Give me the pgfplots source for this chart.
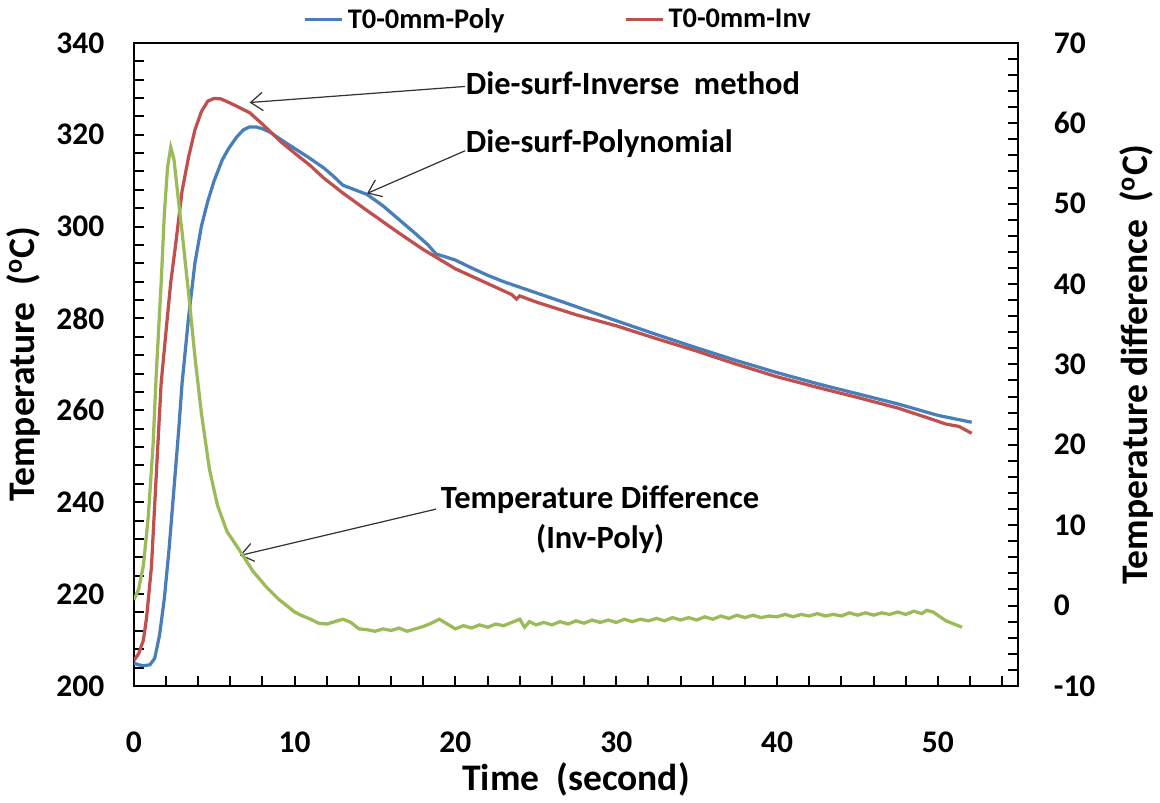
\documentclass[border=0pt]{standalone}
\usepackage{pgfplots}
\pgfplotsset{compat=1.18}
\usepackage{fontspec}
\setmainfont{Carlito}
\usetikzlibrary{arrows.meta}

\definecolor{polyblue}{RGB}{74,126,187}
\definecolor{invred}{RGB}{192,80,77}
\definecolor{diffgreen}{RGB}{155,187,89}

\pgfplotsset{
  every axis/.append style={
    scale only axis,
    width=436pt, height=317pt,
    xmin=0, xmax=55,
    axis line style={line width=1.1pt},
    major tick style={line width=1pt, black},
    minor tick style={line width=1pt, black},
    major tick length=5pt, minor tick length=5pt,
    tick label style={font=\bfseries\fontsize{15.5}{18}\selectfont},
    label style={font=\bfseries\fontsize{18.5}{21}\selectfont},
    /pgf/number format/assume math mode=true,
  }
}

\begin{document}
\begin{tikzpicture}[>={Straight Barb[length=6pt,width=9pt]}]
% left axis: the two surface temperatures
\begin{axis}[
    ymin=200, ymax=340,
    ytick={200,220,...,340},
    minor ytick={200,204,...,340},
    xtick={0,10,...,50},
    minor xtick={0,2,...,54},
    xtick pos=bottom, ytick pos=left,
    xlabel={Time\ \ (second)},
    ylabel={Temperature\ \ (\textsuperscript{o}C)},
    xticklabel style={yshift=-19pt},
    xlabel style={yshift=2pt},
    ylabel style={yshift=1pt},
    yticklabel style={xshift=-11pt},
    legend columns=2,
    legend style={draw=none, fill=none, at={(0.481,1.005)}, anchor=south,
      font=\bfseries\fontsize{14}{17}\selectfont,
      /tikz/every even column/.append style={column sep=57pt}},
    legend image code/.code={\draw[#1, line width=1.8pt] (0pt,0pt) -- (18pt,0pt);},
  ]
\addplot[polyblue, line width=1.6pt] coordinates {
(0,205.0) (0.3,204.6) (0.6,204.4) (1.0,204.6) (1.3,206) (1.6,211) (1.9,219)
(2.2,230) (2.5,243) (2.8,256) (3.0,265.8) (3.4,280) (3.8,292) (4.2,300)
(4.6,305.5) (5.0,310) (5.5,314.5) (5.9,317) (6.4,319.5) (6.8,321) (7.2,321.7)
(7.6,321.7) (8.0,321.3) (8.5,320.5) (9.2,318.8) (10,317) (10.8,315.2)
(11.8,312.8) (12.4,311) (13.0,309) (13.6,308.2) (14.5,307) (15.5,304.5)
(16.5,301.5) (17.5,298.5) (18.3,296) (18.8,294) (19.3,293.5) (20.0,292.7)
(21,291) (22,289.4) (23,288) (24,286.8) (25,285.6) (27,283.2) (30,279.5)
(32.5,276.5) (35,273.6) (37.5,270.8) (40,268.2) (42.5,265.8) (45,263.6)
(47.5,261.4) (50,258.9) (52.1,257.4)
};
\addlegendentry{T0-0mm-Poly}
\addplot[invred, line width=1.6pt] coordinates {
(0,205.5) (0.3,207) (0.6,210) (0.8,215) (1.1,226) (1.4,246) (1.7,265.8)
(2.0,277) (2.3,287.9) (2.6,296) (3.0,307.7) (3.4,315) (3.8,321) (4.2,325)
(4.6,327.3) (5.0,327.9) (5.4,327.8) (5.8,327.2) (6.4,326.2) (7.2,324.8)
(8.0,322.3) (8.5,320.6) (9.2,318.3) (10,316) (11,313.2) (11.8,310.6)
(13,307.3) (14.5,303.5) (16.4,298.8) (18,295) (20,290.8) (22,287.6)
(23.5,285.2) (23.8,284.2) (24,284.9) (25,283.6) (27.5,280.8) (30,278.4)
(32.5,275.6) (35,272.9) (37.5,270.0) (40,267.3) (42.5,265.0) (45,262.8)
(47.5,260.5) (49.5,258.2) (50.5,257.0) (51.3,256.5) (52.1,255.0)
};
\addlegendentry{T0-0mm-Inv}

\draw[->, line width=0.6pt, black!80] (axis cs:20.6,330.5) -- (axis cs:7.2,327.0);
\draw[->, line width=0.6pt, black!80] (axis cs:20.6,316.5) -- (axis cs:14.5,307.2);
\draw[->, line width=0.6pt, black!80] (axis cs:18.8,238.5) -- (axis cs:6.6,228.4);
\node[anchor=west, font=\bfseries\fontsize{16}{19}\selectfont]
  at (axis cs:20.2,331.2) {Die-surf-Inverse\ \ method};
\node[anchor=west, font=\bfseries\fontsize{16}{19}\selectfont]
  at (axis cs:20.2,318.0) {Die-surf-Polynomial};
\node[font=\bfseries\fontsize{16}{19}\selectfont, align=center]
  at (axis cs:29.0,236.2) {Temperature Difference\\[1pt](Inv-Poly)};
\end{axis}

% right axis: temperature difference
\begin{axis}[
    ymin=-10, ymax=70,
    ytick={-10,0,...,70},
    minor ytick={-10,-8,...,70},
    axis y line*=right,
    axis x line=none,
    ylabel={Temperature difference\ \ (\textsuperscript{o}C)},
    yticklabel style={xshift=14pt},
    ylabel style={yshift=-5pt},
  ]
\addplot[diffgreen, line width=1.6pt] coordinates {
(0,0.7) (0.3,2) (0.6,5) (0.9,11) (1.2,20) (1.4,28.9) (1.7,40) (1.9,48.7)
(2.1,54.5) (2.3,57.0) (2.5,55.5) (2.8,50) (3.0,46.5) (3.4,39) (3.8,31)
(4.2,24) (4.7,17) (5.2,12.5) (5.8,9.2) (6.6,6.8) (7.4,4.3) (8.2,2.4)
(9.0,0.8) (10,-0.8) (10.5,-1.3) (11,-1.7) (11.5,-2.2) (12,-2.3) (12.5,-2.0)
(13,-1.7) (13.5,-2.1) (14,-2.9) (14.5,-3.0) (15,-3.2) (15.5,-2.9) (16,-3.1)
(16.5,-2.8) (17,-3.2) (17.5,-2.9) (18,-2.6) (18.5,-2.2) (19,-1.7) (19.5,-2.3)
(20,-2.9) (20.5,-2.5) (21,-2.8) (21.5,-2.4) (22,-2.7) (22.5,-2.3) (23,-2.5)
(23.5,-2.1) (24,-1.7) (24.3,-2.7) (24.6,-2.0) (25,-2.4) (25.5,-2.1) (26,-2.4)
(26.5,-2.0) (27,-2.3) (27.5,-1.9) (28,-2.2) (28.5,-1.8) (29,-2.1) (29.5,-1.8)
(30,-2.1) (30.5,-1.7) (31,-2.0) (31.5,-1.7) (32,-1.9) (32.5,-1.6) (33,-1.9)
(33.5,-1.5) (34,-1.8) (34.5,-1.5) (35,-1.8) (35.5,-1.4) (36,-1.7) (36.5,-1.3)
(37,-1.6) (37.5,-1.2) (38,-1.5) (38.5,-1.2) (39,-1.5) (39.5,-1.3) (40,-1.4)
(40.5,-1.1) (41,-1.4) (41.5,-1.1) (42,-1.3) (42.5,-1.0) (43,-1.3) (43.5,-1.1)
(44,-1.3) (44.5,-0.9) (45,-1.2) (45.5,-0.9) (46,-1.2) (46.5,-0.9) (47,-1.1)
(47.5,-0.8) (48,-1.1) (48.5,-0.7) (49,-1.0) (49.3,-0.6) (49.7,-0.8)
(50.5,-1.9) (51.5,-2.7)
};
\end{axis}
\end{tikzpicture}
\end{document}
